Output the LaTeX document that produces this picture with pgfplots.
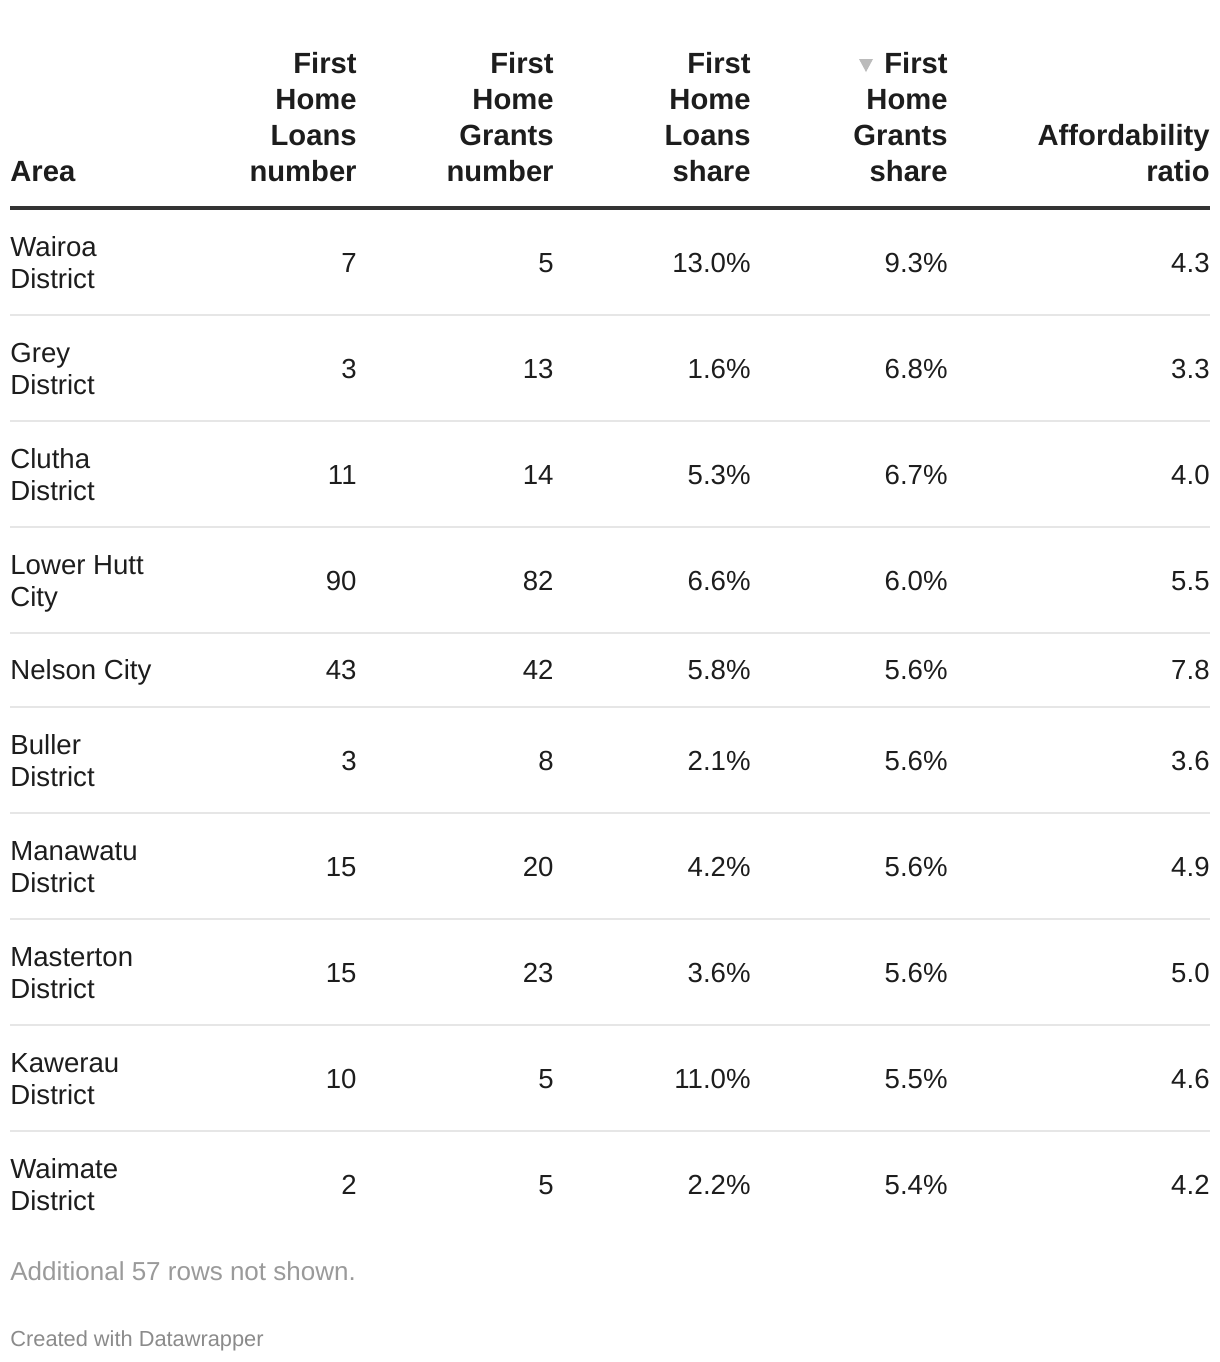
\documentclass[border=0pt]{standalone}
\usepackage{pgfplots}
\pgfplotsset{compat=1.18}
\usepackage{fontspec}
\setmainfont{Liberation Sans}
\definecolor{txt}{HTML}{1D1D1D}
\definecolor{rule}{HTML}{333333}
\definecolor{sep}{HTML}{E6E6E6}
\definecolor{note}{HTML}{9A9A9A}
\definecolor{tri}{HTML}{BBBBBB}
\newcommand\bodyf{\fontsize{13.8}{16}\selectfont}
\newcommand\headf{\fontsize{14.6}{17}\selectfont\bfseries}
% columns' right edges: 357, 554, 751, 948, 1210
\newcommand\vals[6]{%
  \node[anchor=base east,text=txt,font=\bodyf,inner sep=0pt] at (axis cs:357,{#1+9}) {#2};
  \node[anchor=base east,text=txt,font=\bodyf,inner sep=0pt] at (axis cs:554,{#1+9}) {#3};
  \node[anchor=base east,text=txt,font=\bodyf,inner sep=0pt] at (axis cs:751,{#1+9}) {#4};
  \node[anchor=base east,text=txt,font=\bodyf,inner sep=0pt] at (axis cs:948,{#1+9}) {#5};
  \node[anchor=base east,text=txt,font=\bodyf,inner sep=0pt] at (axis cs:1210,{#1+9}) {#6};
}
\newcommand\rowtwo[8]{%
  \node[anchor=base west,text=txt,font=\bodyf,inner sep=0pt] at (axis cs:10,{#1-7}) {#2};
  \node[anchor=base west,text=txt,font=\bodyf,inner sep=0pt] at (axis cs:10,{#1+25}) {#3};
  \vals{#1}{#4}{#5}{#6}{#7}{#8}
}
\newcommand\rowone[7]{%
  \node[anchor=base west,text=txt,font=\bodyf,inner sep=0pt] at (axis cs:10,{#1+9}) {#2};
  \vals{#1}{#3}{#4}{#5}{#6}{#7}
}
\newcommand\hdr[3]{%
  \node[anchor=base east,text=txt,font=\headf,inner sep=0pt] at (axis cs:#1,#2) {#3};
}
\begin{document}
\begin{tikzpicture}
\begin{axis}[scale only axis, width=610pt, height=681pt,
  xmin=0, xmax=1220, ymin=0, ymax=1362, y dir=reverse,
  hide axis, clip=false]
\fill[white] (axis cs:0,0) rectangle (axis cs:1220,1362);
% header
\node[anchor=base west,text=txt,font=\headf,inner sep=0pt] at (axis cs:10,181) {Area};
\hdr{357}{73}{First}\hdr{357}{109}{Home}\hdr{357}{145}{Loans}\hdr{357}{181}{number}
\hdr{554}{73}{First}\hdr{554}{109}{Home}\hdr{554}{145}{Grants}\hdr{554}{181}{number}
\hdr{751}{73}{First}\hdr{751}{109}{Home}\hdr{751}{145}{Loans}\hdr{751}{181}{share}
\hdr{948}{73}{First}\hdr{948}{109}{Home}\hdr{948}{145}{Grants}\hdr{948}{181}{share}
\hdr{1210}{145}{Affordability}\hdr{1210}{181}{ratio}
\fill[tri] (axis cs:859,59) -- (axis cs:873,59) -- (axis cs:866,72) -- cycle;
\draw[rule, line width=2pt] (axis cs:10,208) -- (axis cs:1210,208);
% separators
\pgfplotsinvokeforeach{315,421,527,633,707,813,919,1025,1131}{
  \draw[sep, line width=1pt] (axis cs:10,#1) -- (axis cs:1210,#1);
}
% rows
\rowtwo{263}{Wairoa}{District}{7}{5}{13.0\%}{9.3\%}{4.3}
\rowtwo{369}{Grey}{District}{3}{13}{1.6\%}{6.8\%}{3.3}
\rowtwo{475}{Clutha}{District}{11}{14}{5.3\%}{6.7\%}{4.0}
\rowtwo{581}{Lower Hutt}{City}{90}{82}{6.6\%}{6.0\%}{5.5}
\rowone{670}{Nelson City}{43}{42}{5.8\%}{5.6\%}{7.8}
\rowtwo{761}{Buller}{District}{3}{8}{2.1\%}{5.6\%}{3.6}
\rowtwo{867}{Manawatu}{District}{15}{20}{4.2\%}{5.6\%}{4.9}
\rowtwo{973}{Masterton}{District}{15}{23}{3.6\%}{5.6\%}{5.0}
\rowtwo{1079}{Kawerau}{District}{10}{5}{11.0\%}{5.5\%}{4.6}
\rowtwo{1185}{Waimate}{District}{2}{5}{2.2\%}{5.4\%}{4.2}
% notes
\node[anchor=base west,text=note,font=\fontsize{13}{15}\selectfont,inner sep=0pt] at (axis cs:10,1280) {Additional 57 rows not shown.};
\node[anchor=base west,text=note!90!black,font=\fontsize{10.9}{13}\selectfont,inner sep=0pt] at (axis cs:10,1346) {Created with Datawrapper};
\end{axis}
\end{tikzpicture}
\end{document}
